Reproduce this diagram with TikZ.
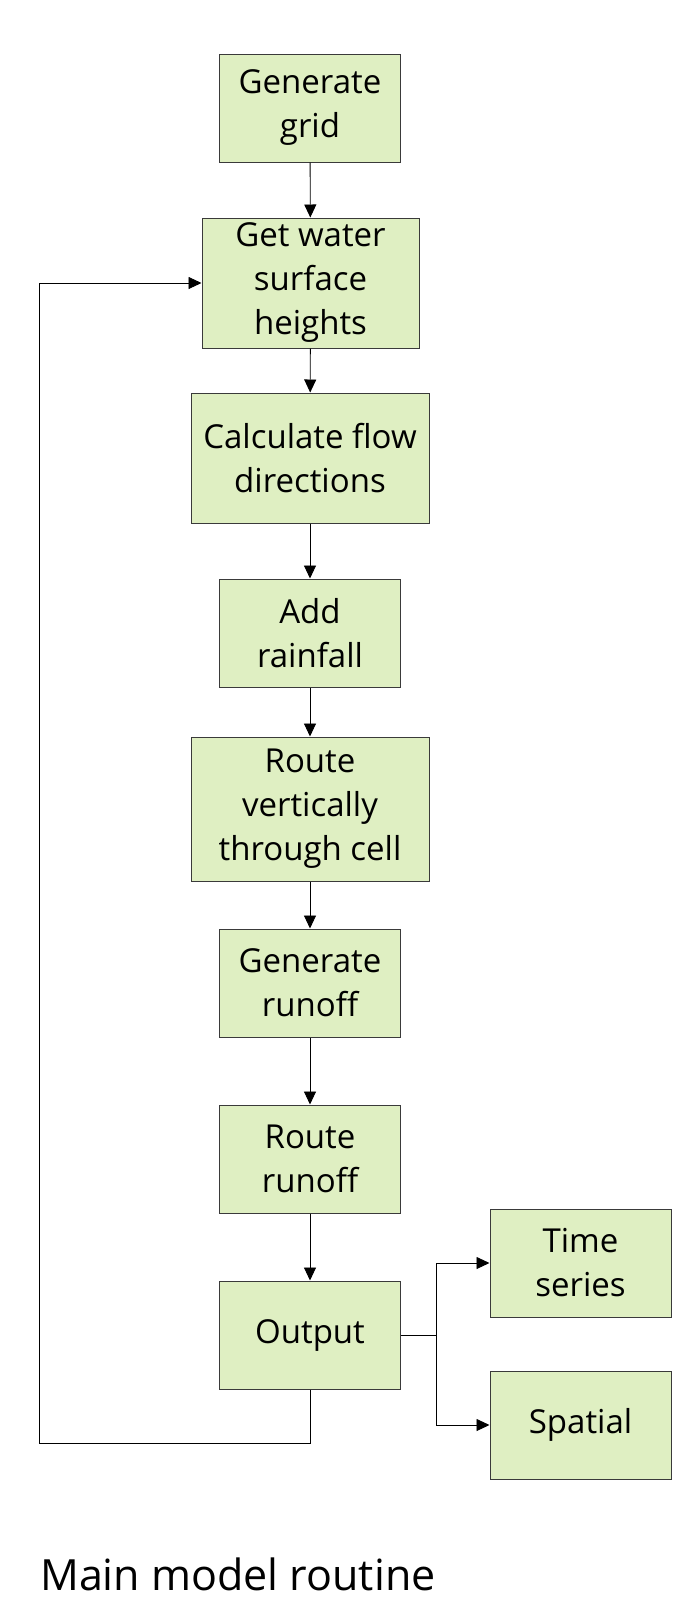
\documentclass[tikz,border=0pt]{standalone}
\usepackage{fontspec}
\setmainfont{Open Sans}
\usetikzlibrary{arrows.meta}
\definecolor{boxfill}{HTML}{DFEFC2}
\definecolor{boxline}{HTML}{3A3A3A}
\tikzset{
  stepbox/.style={draw=boxline, line width=1pt, fill=boxfill, align=center,
    inner sep=0pt, font=\fontsize{33}{44}\selectfont},
  conn/.style={draw=black, line width=0.9pt, -{Triangle[length=13pt,width=12pt]}},
  plain/.style={draw=black, line width=0.9pt}
}
\begin{document}
\begin{tikzpicture}[x=1pt,y=-1pt]
\useasboundingbox (0,0) rectangle (696,1599);
\node[stepbox, minimum width=181pt, minimum height=108pt] (grid) at (310,108) {Generate\\grid};
\node[stepbox, minimum width=217pt, minimum height=130pt] (wsh) at (310.5,283) {Get water\\surface\\heights};
\node[stepbox, minimum width=238pt, minimum height=130pt] (flow) at (310,458) {Calculate flow\\directions};
\node[stepbox, minimum width=181pt, minimum height=108pt] (rain) at (310,633) {Add\\rainfall};
\node[stepbox, minimum width=238pt, minimum height=144pt] (vert) at (310,809) {Route\\vertically\\through cell};
\node[stepbox, minimum width=181pt, minimum height=108pt] (gen) at (310,983) {Generate\\runoff};
\node[stepbox, minimum width=181pt, minimum height=108pt] (rr) at (310,1159) {Route\\runoff};
\node[stepbox, minimum width=181pt, minimum height=108pt] (out) at (310,1335) {Output};
\node[stepbox, minimum width=181pt, minimum height=108pt] (ts) at (580.5,1263) {Time\\series};
\node[stepbox, minimum width=181pt, minimum height=108pt] (sp) at (580.5,1425) {Spatial};
\node[anchor=base west, inner sep=0pt, font=\fontsize{43}{50}\selectfont] (title) at (40,1590) {Main model routine};
\coordinate (br) at (436,1335);
\coordinate (lb) at (39,1443);
\path[conn] (grid) -- (wsh);
\path[conn] (wsh) -- (flow);
\path[conn] (flow) -- (rain);
\path[conn] (rain) -- (vert);
\path[conn] (vert) -- (gen);
\path[conn] (gen) -- (rr);
\path[conn] (rr) -- (out);
\path[plain] (out.east) -- (br);
\path[conn] (br) |- (ts.west);
\path[conn] (br) |- (sp.west);
\path[conn] (out.south) |- (lb) |- (wsh.west);
\end{tikzpicture}
\end{document}
